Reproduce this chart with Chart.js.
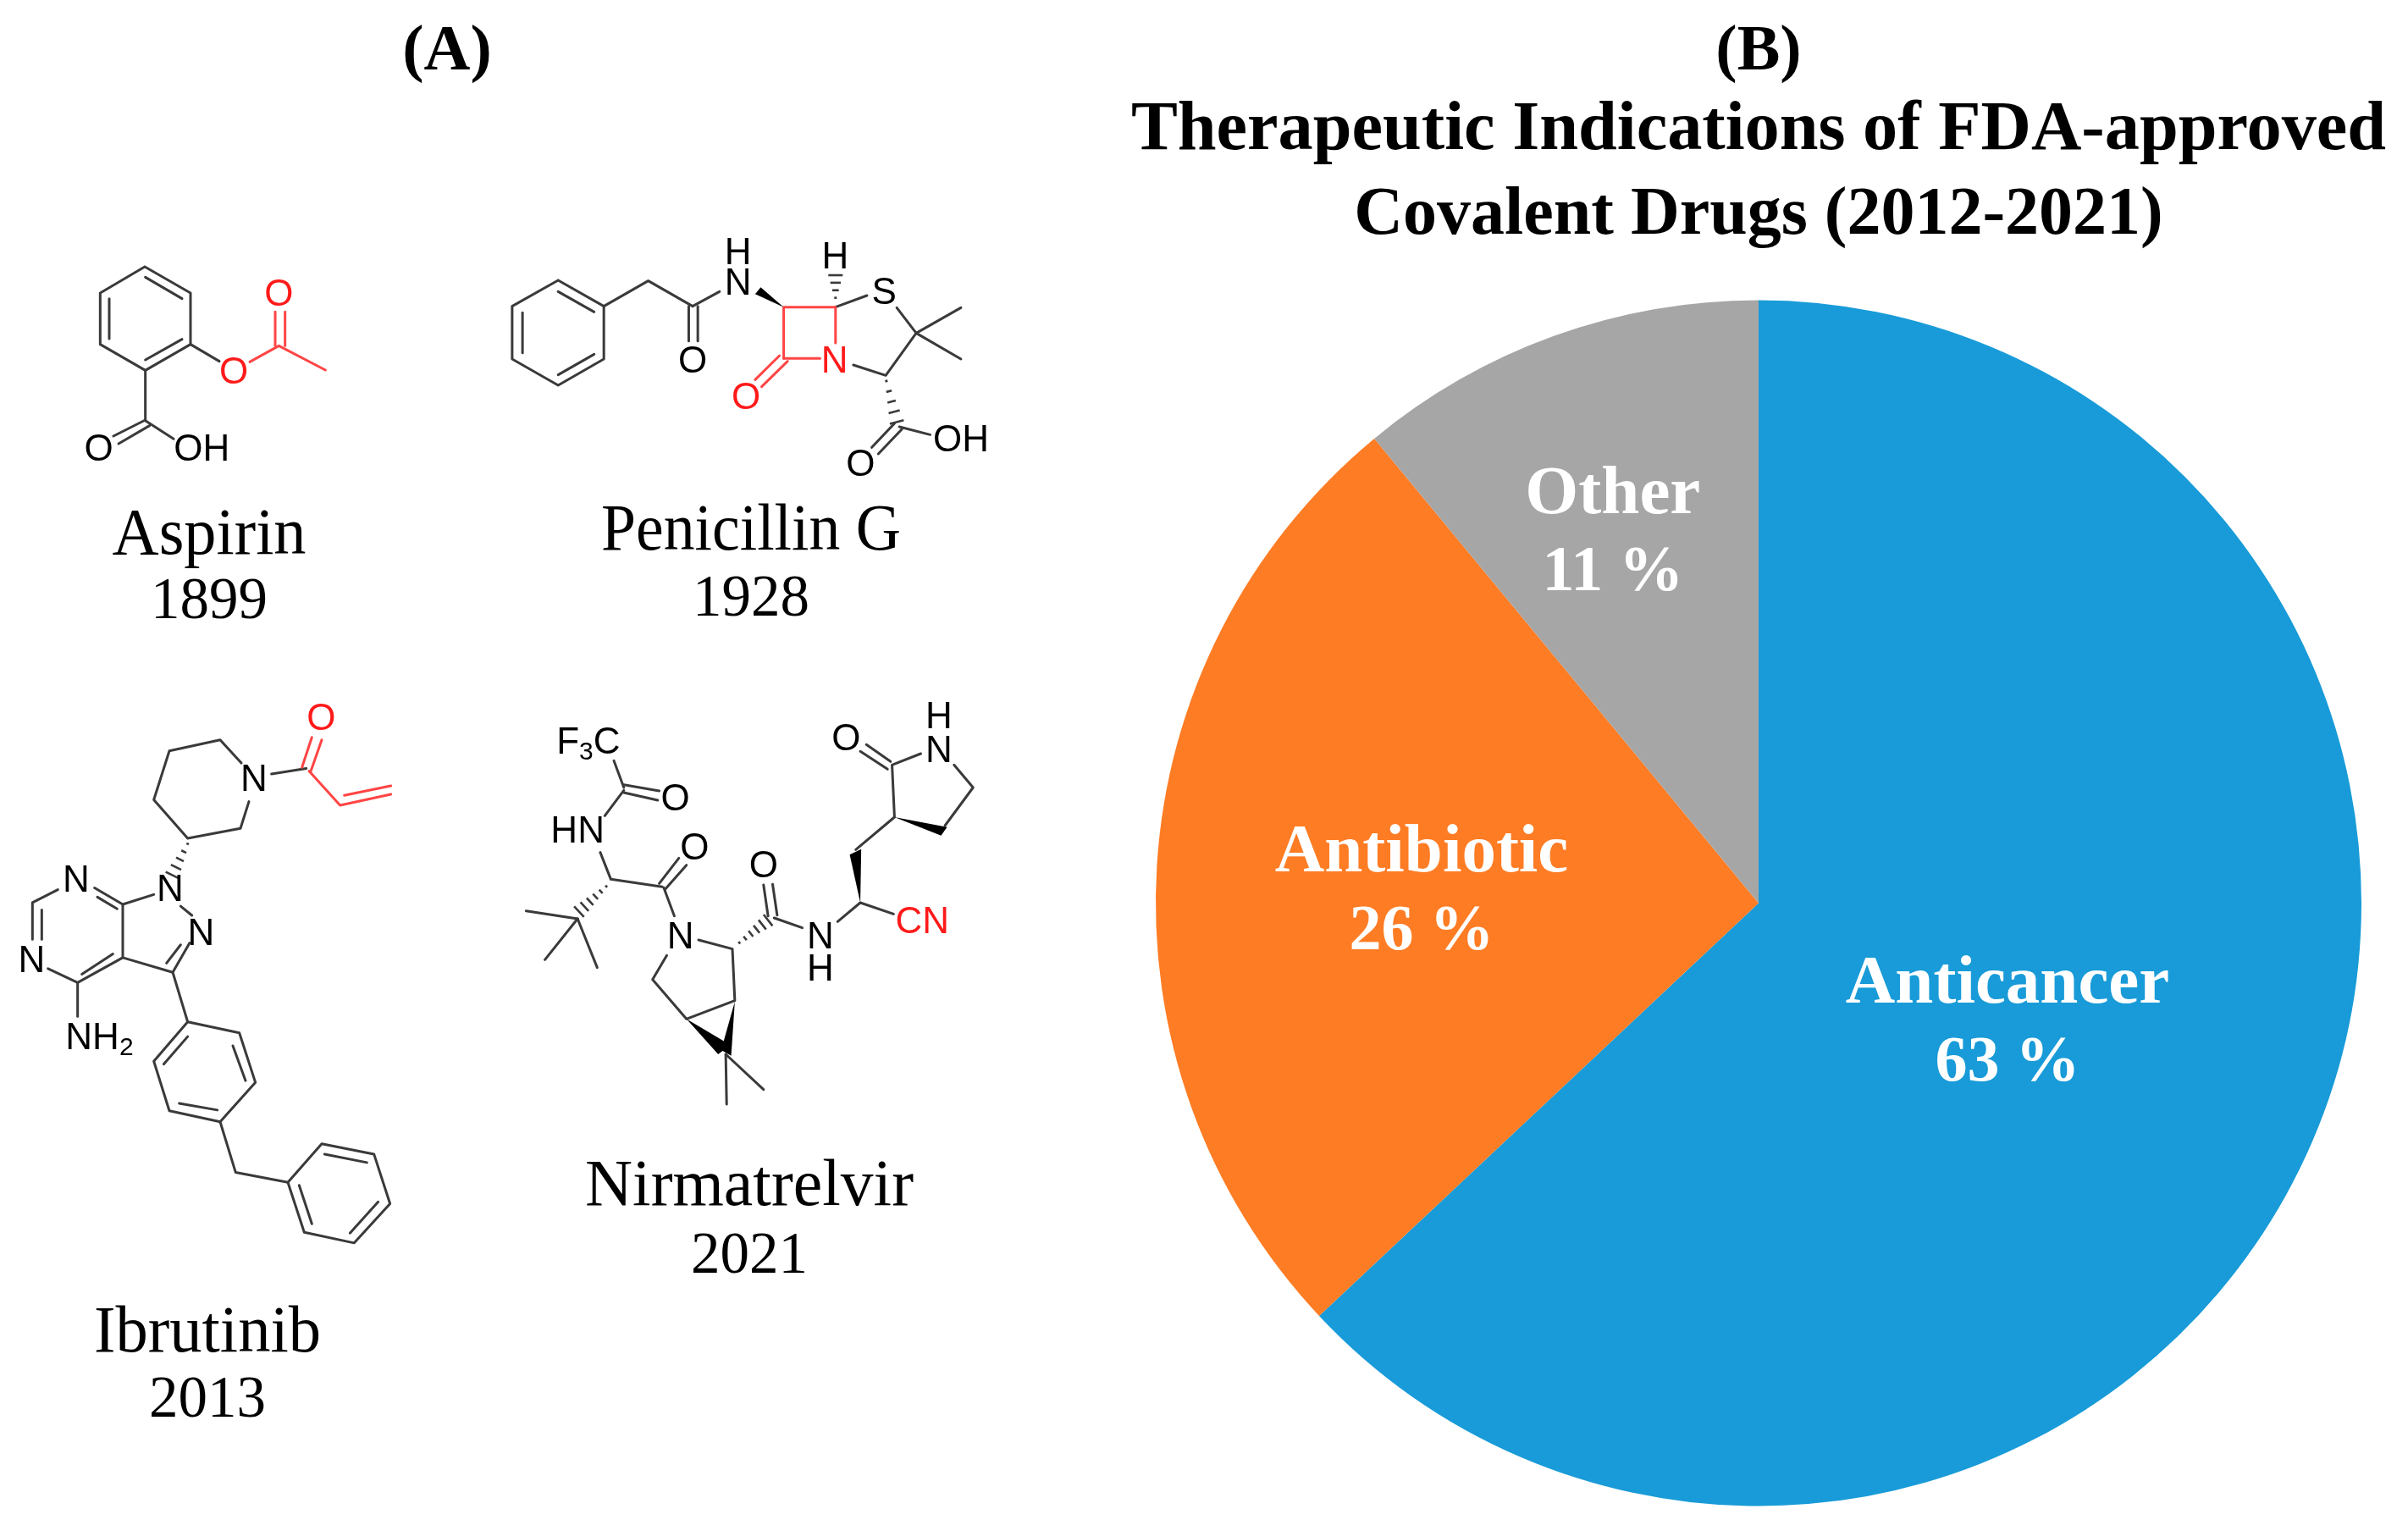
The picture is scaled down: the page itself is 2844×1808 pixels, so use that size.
<!DOCTYPE html>
<html><head><meta charset="utf-8">
<style>html,body{margin:0;padding:0;background:#fff}canvas{display:block}</style>
<script src="https://cdn.jsdelivr.net/npm/chart.js@4"></script>
</head><body>
<canvas id="c" width="2844" height="1808"></canvas>
<script>
const categories = ['Anticancer', 'Antibiotic', 'Other'];
const shareValues = [63, 26, 11];
const sliceColors = ['#189BD8', '#FE7C24', '#A6A6A6'];
const titleLine = 'Therapeutic Indications of FDA-approved';
const subtitleLine = 'Covalent Drugs (2012-2021)';

const SERIF = '"Liberation Serif", serif';
const SANS = '"Liberation Sans", sans-serif';
const INK = '#3a3a3a', RED = '#ff1a1a', BLACK = '#000';

// label placement: fraction of the radius along each slice's mid-angle, then a small pixel nudge
const labelRadiusFraction = [0.45, 0.56, 0.66];
const labelNudge = [[0, 16], [0, 13], [-13, 7]];
const nameFontPx = 81, pctFontPx = 76, labelGapPx = 93;

// ---- Panel A: drug names [name, year, centreX, nameY, yearY, nameMaxWidth]
const drugCaptions = [
  ['Aspirin', '1899', 247, 634, 712, 229],
  ['Penicillin G', '1928', 887, 629, 709, 354],
  ['Ibrutinib', '2013', 245, 1576, 1655, 268],
  ['Nirmatrelvir', '2021', 885, 1403, 1485, 388]
];

// ---- Panel A: skeletal formulas, in local sketch units
// bonds: polylines [x,y,...]  red: same in red  wedges: [tipX,tipY,baseAx,baseAy,baseBx,baseBy]
// hashes: [tipX,tipY,endX,endY,count]  atoms: [text,x,y,color]
const structures = [
{ ox:60, oy:240, sx:3, sy:3,
  bonds:[[333,225,495,318,495,500,335,592,175,500,175,318,333,225],[335,262,465,338],[207,338,207,480],[335,555,465,482],
         [495,500,597,560],[335,592,335,770],[335,768,222,825],[350,788,240,852],[335,770,435,835]],
  red:[[705,562,808,505,973,591],[795,385,795,505],[830,385,830,505]],
  atoms:[['O',170,868],['OH',535,868],['O',648,593,RED],['O',808,318,RED]] },
{ ox:580, oy:250, sx:2.613, sy:3,
  bonds:[[207,243,348,335,348,522,207,615,65,522,65,335,207,243],[207,283,318,355],[97,358,97,500],[207,578,318,505],
         [348,335,485,245,622,335,705,283],[610,335,610,458],[638,335,638,458],[1063,338,1160,297],
         [1252,340,1312,430,1218,580,1118,543],[1312,430,1450,340],[1312,430,1450,522],
         [1260,762,1355,790],[1245,750,1175,835],[1268,770,1195,858]],
  red:[[903,520,903,338,1063,338,1063,465],[903,520,1015,520],[890,510,815,595],[915,530,835,620]],
  wedges:[[903,338,815,292,832,268]],
  hashes:[[1063,305,1063,225,4],[1220,600,1252,745,5]],
  atoms:[['O',622,525],['N',762,250],['H',762,140],['N',1060,525,RED],['O',787,655,RED],['S',1213,282],['H',1062,155],['O',1140,890],['OH',1450,805]] },
{ ox:0, oy:810, sx:3, sy:2.306,
  bonds:[[855,210,780,147,600,177,545,310,665,415,852,388,882,315],[962,240,1085,225],
         [545,568,435,595,335,550],[345,575,415,607],[205,555,115,590,115,690],[148,610,148,690],[170,770,275,808,435,740,435,595],
         [290,785,400,730],[435,740,612,780,672,700],[590,755,640,705],[640,600,680,625],[612,780,665,915],[275,808,275,900],
         [665,915,848,945,905,1080,780,1187,600,1157,545,1022,665,915],[665,955,580,1030],[825,980,870,1075],[635,1137,770,1155],
         [780,1187,835,1325,1020,1352],
         [1020,1352,1140,1247,1325,1275,1382,1410,1255,1517,1078,1488,1020,1352],[1150,1275,1300,1298],[1340,1405,1240,1490],[1060,1360,1105,1465]],
  red:[[1095,232,1205,325,1385,295],[1220,298,1385,272],[1070,222,1105,140],[1100,235,1140,147]],
  hashes:[[665,430,610,515,5]],
  atoms:[['O',1138,85,RED],['N',900,250],['N',603,550],['N',270,525],['N',112,745],['N',712,670]],
  scripts:[[232,955,'NH','2']] },
{ ox:600, oy:810, sx:2.8, sy:3,
  bonds:[[350,265,383,360],[383,350,500,372],[383,378,495,405],[383,370,320,460],[305,590,340,685,510,712],[500,700,565,610],[520,720,590,635],
         [515,715,550,815],[230,825,60,797],[230,825,122,970],[230,825,295,998],[630,900,742,932,750,1115,590,1180,478,1040,525,955],
         [720,1305,723,1482],[720,1305,845,1430],[845,705,860,815],[875,703,890,812],[880,822,973,857],[1090,835,1165,768,1275,808],
         [1150,580,1278,465,1270,280],[1265,268,1185,208],[1255,295,1165,232],[1275,278,1365,240],[1475,280,1538,360,1445,495]],
  wedges:[[590,1180,695,1305,735,1272],[750,1118,705,1290,738,1310],[1165,768,1130,598,1168,578],[1278,465,1452,500,1432,530]],
  hashes:[[325,710,235,800,6],[765,910,860,830,6]],
  atoms:[['O',553,395],['HN',230,510],['O',617,570],['N',570,885],['O',845,632],['N',1033,885],['H',1033,1000],['CN',1370,830,RED],['O',1118,183],['N',1425,225],['H',1425,105]],
  scripts:[[160,195,'F','3','C']] }
];

function drawStructure(ctx, s) {
  const X = x => s.ox + x / s.sx, Y = y => s.oy + y / s.sy;
  const poly = (p, col) => {
    ctx.strokeStyle = col; ctx.lineWidth = 3; ctx.lineJoin = 'round'; ctx.lineCap = 'round';
    ctx.beginPath();
    for (let i = 0; i < p.length; i += 2) { i ? ctx.lineTo(X(p[i]), Y(p[i+1])) : ctx.moveTo(X(p[i]), Y(p[i+1])); }
    ctx.stroke();
  };
  (s.bonds || []).forEach(p => poly(p, INK));
  (s.red || []).forEach(p => poly(p, '#ff4545'));
  ctx.fillStyle = BLACK;
  (s.wedges || []).forEach(w => {
    ctx.beginPath(); ctx.moveTo(X(w[0]), Y(w[1])); ctx.lineTo(X(w[2]), Y(w[3])); ctx.lineTo(X(w[4]), Y(w[5])); ctx.closePath(); ctx.fill();
  });
  (s.hashes || []).forEach(h => {
    const x0 = X(h[0]), y0 = Y(h[1]), x1 = X(h[2]), y1 = Y(h[3]), n = h[4];
    const dx = x1 - x0, dy = y1 - y0, L = Math.hypot(dx, dy), nx = -dy / L, ny = dx / L;
    ctx.strokeStyle = INK; ctx.lineWidth = 2.6; ctx.lineCap = 'butt';
    for (let i = 0; i < n; i++) {
      const t = i / (n - 1), half = 1.5 + t * 7, px = x0 + dx * t, py = y0 + dy * t;
      ctx.beginPath(); ctx.moveTo(px - nx * half, py - ny * half); ctx.lineTo(px + nx * half, py + ny * half); ctx.stroke();
    }
  });
  ctx.textBaseline = 'middle'; ctx.textAlign = 'center'; ctx.font = '44px ' + SANS;
  (s.atoms || []).forEach(a => { ctx.fillStyle = a[3] || BLACK; ctx.fillText(a[0], X(a[1]), Y(a[2]) + 3); });
  (s.scripts || []).forEach(t => {
    let x = X(t[0]); const y = Y(t[1]) + 3;
    ctx.fillStyle = BLACK; ctx.textAlign = 'left';
    for (let i = 2; i < t.length; i++) {
      const sub = /\d/.test(t[i]);
      ctx.font = (sub ? 30 : 44) + 'px ' + SANS;
      ctx.fillText(t[i], x, y + (sub ? 11 : 0));
      x += ctx.measureText(t[i]).width;
    }
    ctx.textAlign = 'center';
  });
}

const panelPlugin = {
  id: 'panelA',
  afterDraw(chart) {
    const ctx = chart.ctx;
    ctx.save();
    ctx.filter = 'blur(0.6px)';
    structures.forEach(s => drawStructure(ctx, s));
    ctx.filter = 'none';
    ctx.fillStyle = '#000'; ctx.textAlign = 'center'; ctx.textBaseline = 'middle';
    ctx.font = 'bold 76px ' + SERIF;
    ctx.fillText('(A)', 528, 62);
    ctx.fillText('(B)', 2077, 62);
    drugCaptions.forEach(d => {
      ctx.font = '78px ' + SERIF;
      ctx.fillText(d[0], d[2], d[3], d[5]);
      ctx.font = '69px ' + SERIF;
      ctx.fillText(d[1], d[2], d[4]);
    });
    ctx.restore();
  }
};

const sliceLabelPlugin = {
  id: 'sliceLabels',
  afterDatasetsDraw(chart) {
    const ctx = chart.ctx, arcs = chart.getDatasetMeta(0).data;
    ctx.save();
    ctx.fillStyle = '#fff'; ctx.textAlign = 'center'; ctx.textBaseline = 'middle';
    arcs.forEach((a, i) => {
      const mid = (a.startAngle + a.endAngle) / 2, r = a.outerRadius * labelRadiusFraction[i];
      const cx = a.x + Math.cos(mid) * r + labelNudge[i][0], cy = a.y + Math.sin(mid) * r + labelNudge[i][1];
      ctx.font = 'bold ' + nameFontPx + 'px ' + SERIF;
      ctx.fillText(categories[i], cx, cy - labelGapPx / 2);
      ctx.font = 'bold ' + pctFontPx + 'px ' + SERIF;
      ctx.fillText(shareValues[i] + ' %', cx, cy + labelGapPx / 2);
    });
    ctx.restore();
  }
};

new Chart(document.getElementById('c'), {
  type: 'pie',
  data: { labels: categories, datasets: [{ data: shareValues, backgroundColor: sliceColors, borderWidth: 0 }] },
  options: {
    responsive: false, animation: false,
    layout: { padding: { left: 1310, right: 0, top: 0, bottom: 29.5 } },
    plugins: {
      legend: { display: false }, tooltip: { enabled: false },
      title: { display: true, text: titleLine, fullSize: false, color: '#000',
        font: { family: SERIF, size: 82.3, weight: 'bold', lineHeight: 1.215 },
        padding: { top: 105, bottom: 0 } },
      subtitle: { display: true, text: subtitleLine, fullSize: false, color: '#000',
        font: { family: SERIF, size: 80, weight: 'bold', lineHeight: 1.25 },
        padding: { top: 0, bottom: 49.5 } }
    }
  },
  plugins: [sliceLabelPlugin, panelPlugin]
});
</script>
</body></html>
